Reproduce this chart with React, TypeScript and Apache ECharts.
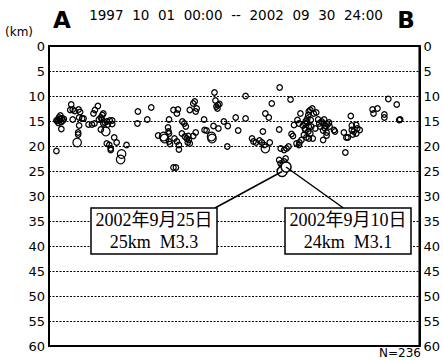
import React, { useEffect, useRef } from "react";
import * as echarts from "echarts";

// Title / annotation texts
const periodText = "1997  10  01  00:00  --  2002  09  30  24:00";
const startLabel = "A";
const endLabel = "B";
const unitLabel = "(km)";
const countLabel = "N=236";

// Depth axis (km)
const depthMin = 0;
const depthMax = 60;
const depthStep = 5;
// Horizontal distance along A-B (km)
const distMin = 0;
const distMax = 75;

// Hypocenters: [distance km, depth km] — small events
const smallEvents: [number, number][] = [
  [1.7, 14.9], [2.0, 14.3], [2.2, 14.6], [2.5, 15.2], [1.9, 15.4], [2.3, 13.9], [2.8, 14.9], [1.5, 14.9],
  [1.8, 15.0], [2.6, 14.5], [3.0, 14.6], [2.5, 16.6], [1.5, 21.0], [4.5, 11.7], [4.3, 12.8], [4.8, 12.7],
  [5.2, 13.0], [6.0, 12.7], [6.3, 13.2], [4.8, 14.7], [6.1, 14.3], [6.7, 14.5], [7.0, 14.5], [6.1, 15.9],
  [5.9, 17.3], [5.9, 17.7], [8.0, 15.7], [8.7, 15.7], [9.2, 15.5], [9.0, 13.5], [9.3, 12.8], [9.9, 12.0],
  [10.1, 14.7], [10.5, 14.3], [10.8, 13.8], [11.0, 13.5], [10.7, 14.7], [11.0, 15.5], [11.3, 15.3], [11.7, 15.1],
  [11.9, 15.7], [12.3, 14.9], [12.8, 14.9], [12.8, 15.6], [10.5, 16.7], [13.2, 18.3], [13.7, 19.3], [11.7, 19.5],
  [12.2, 19.8], [12.5, 20.5], [12.5, 20.8], [15.7, 19.8], [18.0, 13.1], [17.9, 15.5],
  [20.7, 12.3], [19.9, 14.7], [24.3, 14.7], [24.1, 16.3], [24.2, 17.1], [24.3, 17.5], [22.1, 17.9], [24.3, 19.1],
  [24.5, 19.6], [25.4, 18.5], [25.9, 19.1], [26.3, 19.8], [26.3, 20.7], [25.2, 12.8], [25.9, 13.5], [26.1, 12.7],
  [27.0, 15.1], [27.4, 15.5], [27.7, 16.1], [26.9, 17.5], [27.5, 18.1], [27.9, 18.5], [28.2, 18.0], [28.3, 18.8],
  [28.1, 19.3], [28.5, 19.5], [29.2, 18.0], [29.7, 17.3], [28.5, 12.8], [29.2, 11.5], [29.5, 11.1], [29.9, 12.5],
  [29.7, 13.1], [31.4, 14.7], [31.5, 16.8], [31.9, 16.9], [33.3, 16.0], [34.3, 16.5], [33.5, 9.3], [33.7, 10.9],
  [34.2, 11.8], [34.5, 11.6], [34.1, 12.5], [33.9, 12.1], [35.4, 15.1], [36.2, 16.0], [36.1, 20.1], [25.2, 24.3],
  [25.7, 24.3],
  [46.7, 8.3], [39.8, 10.0], [45.1, 11.5], [48.9, 10.7], [37.8, 14.3], [39.8, 14.5], [43.8, 13.5], [44.5, 14.3],
  [38.3, 16.9], [43.3, 17.1], [46.6, 16.7], [41.1, 18.5], [41.4, 19.1], [41.9, 19.3], [42.6, 18.9], [43.1, 19.3],
  [43.6, 19.8], [44.7, 19.3], [46.9, 20.5], [47.6, 20.8], [48.1, 20.5], [48.5, 20.1], [49.1, 17.6], [49.4, 18.0],
  [50.1, 19.5], [50.6, 19.8],
  [49.6, 15.8], [50.3, 14.8], [50.6, 15.5], [50.9, 13.5], [51.4, 15.9], [51.9, 15.5], [52.3, 14.5], [52.5, 13.8],
  [52.6, 13.1], [52.9, 12.8], [53.3, 12.5], [53.6, 13.5], [54.1, 13.3], [54.5, 14.7], [54.7, 15.5], [54.9, 16.1],
  [51.9, 16.8], [52.5, 17.1], [52.9, 17.5], [51.6, 17.8], [52.1, 18.3], [52.6, 18.5], [51.1, 18.8], [50.7, 19.3],
  [53.4, 18.5], [53.9, 16.5], [53.1, 16.1], [51.8, 16.5], [52.6, 16.1], [52.3, 15.3], [52.0, 15.0], [53.0, 14.8],
  [46.6, 22.8], [46.9, 23.5], [47.3, 23.8], [47.6, 23.1], [47.9, 22.5], [48.1, 24.0], [47.1, 24.5], [47.8, 24.7],
  [55.2, 15.1], [55.6, 15.5], [56.0, 16.0], [56.4, 15.7], [55.8, 16.4], [56.8, 16.1], [55.5, 16.9], [56.2, 17.3],
  [56.7, 15.3], [55.7, 14.7], [57.7, 16.8], [57.9, 17.1], [55.5, 18.8], [56.2, 17.9], [61.1, 14.0], [59.7, 17.3],
  [60.2, 18.3], [60.5, 18.3], [61.3, 15.9], [61.3, 16.8], [61.7, 17.1], [62.2, 15.8], [62.4, 16.5], [62.9, 16.8],
  [62.2, 17.5], [61.5, 17.7], [60.0, 21.3], [65.5, 12.7], [65.7, 13.5], [66.5, 12.5], [67.9, 13.7], [67.9, 14.3],
  [68.7, 10.6], [70.4, 11.7], [70.9, 14.8], [71.1, 14.7],
];

// Larger events
const largeEvents: [number, number][] = [
  [5.7, 19.3], [11.5, 17.1], [14.7, 21.6], [14.5, 22.7], [23.2, 18.1], [23.4, 18.5], [32.9, 18.1],
  [33.0, 18.5], [43.8, 20.5],
];

// Annotated events
const notedDates = ["2002年9月25日", "2002年9月10日"];
const notedInfo = ["25km  M3.3", "24km  M3.1"];
const notedEvents: [number, number][] = [
  [47.2, 25.1],
  [48.0, 24.2],
];
// Where each leader line meets its label box: [distance km, depth km]
const leaderEnds: [number, number][] = [
  [33.6, 32.4],
  [59.6, 32.4],
];

const AXIS_FONT = '"DejaVu Sans", "Liberation Sans", sans-serif';
const BOX_FONT = '"Liberation Serif", "DejaVu Serif", "Noto Sans CJK JP", serif';

export default function App() {
  const ref = useRef<HTMLDivElement>(null);
  useEffect(() => {
    if (!ref.current) return;
    const chart = echarts.init(ref.current, null, { renderer: "svg" });
    const yCommon = {
      type: "value",
      inverse: true,
      min: depthMin,
      max: depthMax,
      interval: depthStep,
      axisTick: { show: false },
      axisLine: { show: true, lineStyle: { color: "#000", width: 2 } },
      axisLabel: { color: "#000", fontSize: 13, fontFamily: AXIS_FONT, margin: 4 },
    };
    const boxes = [
      { x: 91, y: 208 },
      { x: 285, y: 208 },
    ];
    const boxW = 126;
    const boxH = 46;
    const graphic: any[] = [
      {
        type: "text", x: 236, y: 15,
        style: { text: periodText, fontSize: 13.5, fontFamily: AXIS_FONT, fill: "#000", align: "center", verticalAlign: "middle" },
      },
      {
        type: "text", x: 62, y: 20,
        style: { text: startLabel, fontSize: 23, fontWeight: "bold", fontFamily: AXIS_FONT, fill: "#000", align: "center", verticalAlign: "middle" },
      },
      {
        type: "text", x: 406, y: 20,
        style: { text: endLabel, fontSize: 23, fontWeight: "bold", fontFamily: AXIS_FONT, fill: "#000", align: "center", verticalAlign: "middle" },
      },
      {
        type: "text", x: 19, y: 32,
        style: { text: unitLabel, fontSize: 12, fontFamily: AXIS_FONT, fill: "#000", align: "center", verticalAlign: "middle" },
      },
      {
        type: "text", x: 421, y: 353,
        style: { text: countLabel, fontSize: 12, fontFamily: AXIS_FONT, fill: "#000", align: "right", verticalAlign: "middle" },
      },
    ];
    boxes.forEach((b, i) => {
      graphic.push({
        type: "rect", z: 10,
        shape: { x: b.x, y: b.y, width: boxW, height: boxH },
        style: { fill: "#fff", stroke: "#000", lineWidth: 1.5 },
      });
      graphic.push({
        type: "text", z: 11, x: b.x + boxW / 2, y: b.y + 12,
        style: { text: notedDates[i], fontSize: 18, fontFamily: BOX_FONT, fill: "#000", align: "center", verticalAlign: "middle" },
      });
      graphic.push({
        type: "text", z: 11, x: b.x + boxW / 2, y: b.y + 34,
        style: { text: notedInfo[i], fontSize: 18, fontFamily: BOX_FONT, fill: "#000", align: "center", verticalAlign: "middle" },
      });
    });

    chart.setOption({
      animation: false,
      backgroundColor: "#fff",
      grid: { left: 49, right: 19, top: 46, bottom: 14, show: true, borderColor: "#000", borderWidth: 2, backgroundColor: "transparent" },
      xAxis: {
        type: "value", min: distMin, max: distMax,
        axisLine: { show: false }, axisTick: { show: false }, axisLabel: { show: false }, splitLine: { show: false },
      },
      yAxis: [
        {
          ...yCommon, position: "left",
          splitLine: { show: true, lineStyle: { color: "#000", width: 1, type: [2, 1.5] } },
        },
        { ...yCommon, position: "right", splitLine: { show: false } },
      ],
      graphic,
      series: [
        {
          type: "scatter", data: smallEvents, symbol: "circle", symbolSize: 5.5,
          itemStyle: { color: "rgba(0,0,0,0)", borderColor: "#000", borderWidth: 1.2, opacity: 1 },
          silent: true,
        },
        {
          type: "scatter", data: largeEvents, symbol: "circle", symbolSize: 8.5,
          itemStyle: { color: "rgba(0,0,0,0)", borderColor: "#000", borderWidth: 1.2, opacity: 1 },
          silent: true,
        },
        {
          type: "scatter", data: notedEvents, symbol: "circle", symbolSize: 10,
          itemStyle: { color: "#fff", borderColor: "#000", borderWidth: 1.5, opacity: 1 },
          silent: true,
          markLine: {
            silent: true, symbol: "none", label: { show: false },
            lineStyle: { color: "#000", width: 1.5, type: "solid" },
            data: notedEvents.map((p, i) => [{ coord: leaderEnds[i] }, { coord: p }]),
          },
        },
      ],
    });
    return () => chart.dispose();
  }, []);
  return (
    <div
      ref={ref}
      style={{ width: 443, height: 360, position: "absolute", left: 0, top: 0 }}
    />
  );
}
